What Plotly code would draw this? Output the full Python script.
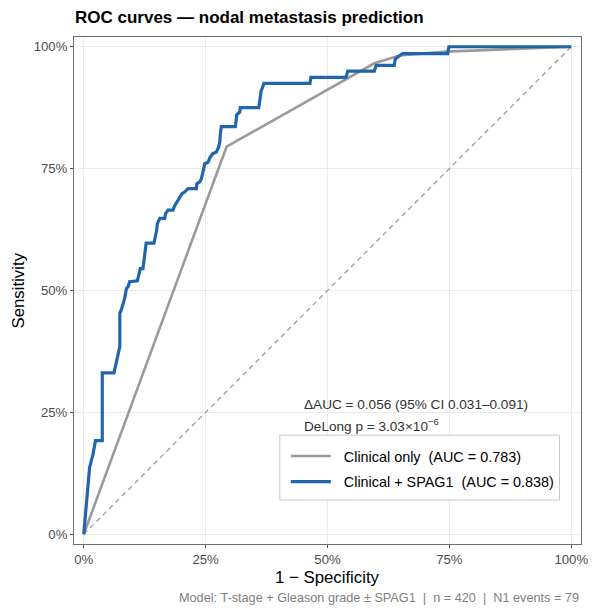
import plotly.graph_objects as go

# ---- data ----
fpr_clinical = [0.0, 0.293, 0.596, 0.648, 0.743, 1.0]
tpr_clinical = [0.0, 0.795, 0.966, 0.982, 0.990, 1.0]

fpr_spag1 = [0.0, 0.007, 0.012, 0.019, 0.024, 0.038, 0.038, 0.062, 0.067, 0.074,
             0.074, 0.077, 0.081, 0.084, 0.0875, 0.091, 0.094, 0.110, 0.113, 0.116,
             0.1215, 0.125, 0.128, 0.144, 0.1455, 0.1496, 0.151, 0.156, 0.166, 0.168,
             0.173, 0.183, 0.1865, 0.193, 0.197, 0.202, 0.207, 0.214, 0.231, 0.232,
             0.238, 0.241, 0.2445, 0.248, 0.255, 0.2595, 0.265, 0.272, 0.2766, 0.279,
             0.280, 0.282, 0.311, 0.313, 0.314, 0.320, 0.321, 0.359, 0.361, 0.364,
             0.367, 0.3695, 0.464, 0.466, 0.538, 0.5416, 0.596, 0.600, 0.637, 0.639,
             0.654, 0.7465, 0.749, 1.0]
tpr_spag1 = [0.0, 0.086, 0.137, 0.164, 0.192, 0.192, 0.331, 0.331, 0.351, 0.385,
             0.453, 0.460, 0.474, 0.484, 0.504, 0.508, 0.518, 0.520, 0.532, 0.545,
             0.545, 0.569, 0.597, 0.597, 0.603, 0.624, 0.637, 0.648, 0.648, 0.658,
             0.665, 0.665, 0.674, 0.684, 0.689, 0.699, 0.702, 0.709, 0.709, 0.719,
             0.723, 0.729, 0.743, 0.760, 0.763, 0.774, 0.781, 0.784, 0.794, 0.804,
             0.818, 0.836, 0.836, 0.852, 0.861, 0.866, 0.875, 0.875, 0.886, 0.910,
             0.917, 0.925, 0.925, 0.937, 0.937, 0.950, 0.950, 0.962, 0.962, 0.975,
             0.986, 0.986, 1.0, 1.0]

chance_x = [0.0, 1.0]
chance_y = [0.0, 1.0]

NB = "\u00a0"
label_clinical = NB + NB + "Clinical only" + NB + NB + "(AUC = 0.783)"
label_spag1 = NB + NB + "Clinical + SPAG1" + NB + NB + "(AUC = 0.838)"
tick_vals = [0, 0.25, 0.5, 0.75, 1.0]
tick_text = ["0%", "25%", "50%", "75%", "100%"]

FONT = "Liberation Sans, Arial, Helvetica, sans-serif"

# page places the figure 8px in from the top-left corner of the window
OFF = 8
WIN_W, WIN_H = 599, 615
W, H = WIN_W - OFF, WIN_H - OFF
# desired plot-area edges in window pixels
PL, PR, PT, PB = 74, 581.5, 36.5, 544
ML, MR, MT, MB = PL - OFF, WIN_W - PR, PT - OFF, WIN_H - PB
PW, PH = PR - PL, PB - PT


def px_x(x):
    return (x - PL) / PW


def px_y(y):
    return (PB - y) / PH


fig = go.Figure()
fig.add_trace(go.Scatter(x=chance_x, y=chance_y, mode="lines", showlegend=False,
                         line=dict(color="#9a9a9a", width=1.3, dash="5px,4px"),
                         hoverinfo="skip"))
fig.add_trace(go.Scatter(x=fpr_clinical, y=tpr_clinical, mode="lines", name=label_clinical,
                         legendgroup="a", line=dict(color="#9b9b9b", width=2.6)))
fig.add_trace(go.Scatter(x=fpr_spag1, y=tpr_spag1, mode="lines", name=label_spag1,
                         legendgroup="b", line=dict(color="#2166ac", width=3.2)))

axis_common = dict(
    range=[-0.02, 1.02], tickvals=tick_vals, ticktext=tick_text,
    showgrid=True, gridcolor="#ebebeb", gridwidth=1,
    zeroline=False, showline=True, mirror=True, linecolor="#6e6e6e", linewidth=1,
    ticks="outside", ticklen=3, tickcolor="#4d4d4d", tickwidth=1,
    tickfont=dict(family=FONT, size=13.2, color="#4d4d4d"),
    automargin=False, fixedrange=True,
)

fig.update_xaxes(**axis_common)
fig.update_yaxes(**axis_common)

fig.update_layout(
    width=W, height=H,
    margin=dict(l=ML, r=MR, t=MT, b=MB, autoexpand=False),
    paper_bgcolor="white", plot_bgcolor="white",
    font=dict(family=FONT),
    title=dict(text="<b>ROC curves — nodal metastasis prediction</b>",
               font=dict(family=FONT, size=17, color="#000"),
               x=(75 - OFF) / W, xanchor="left", xref="container",
               y=1 - (17 - OFF) / H, yanchor="middle", yref="container"),
    legend=dict(x=px_x(286), y=px_y(440), xanchor="left", yanchor="top",
                bgcolor="rgba(0,0,0,0)", borderwidth=0,
                font=dict(family=FONT, size=14.4, color="#000"),
                traceorder="grouped", tracegroupgap=4, itemwidth=40),
    shapes=[
        dict(type="rect", xref="paper", yref="paper", layer="above",
             x0=px_x(280), x1=px_x(560), y0=px_y(500), y1=px_y(435),
             fillcolor="white", line=dict(color="#c8c8c8", width=1)),
    ],
    annotations=[
        dict(x=0.5, y=0, xref="paper", yref="paper", xanchor="center", yanchor="middle",
             yshift=-(577 - PB), showarrow=False, text="1 − Specificity",
             font=dict(family=FONT, size=16.8, color="#000")),
        dict(x=0, y=0.5, xref="paper", yref="paper", xanchor="center", yanchor="middle",
             xshift=-(PL - 18), showarrow=False, text="Sensitivity", textangle=-90,
             font=dict(family=FONT, size=16.8, color="#000")),
        dict(x=0.4475, y=0.266, xref="x", yref="y", xanchor="left", yanchor="middle",
             text="ΔAUC = 0.056 (95% CI 0.031–0.091)", showarrow=False,
             font=dict(family=FONT, size=13.6, color="#333333")),
        dict(x=0.4475, y=0.225, xref="x", yref="y", xanchor="left", yanchor="middle",
             text="DeLong p = 3.03×10<sup>−6</sup>", showarrow=False,
             font=dict(family=FONT, size=13.6, color="#333333")),
        dict(x=1.0, y=0, xref="paper", yref="paper",
             xanchor="right", yanchor="middle", showarrow=False, yshift=-(598 - PB),
             text="Model: T-stage + Gleason grade ± SPAG1" + NB + NB + "|" + NB + NB + "n = 420"
                  + NB + NB + "|" + NB + NB + "N1 events = 79",
             font=dict(family=FONT, size=12.7, color="#7f7f7f")),
    ],
)

fig.write_html("out.html")
